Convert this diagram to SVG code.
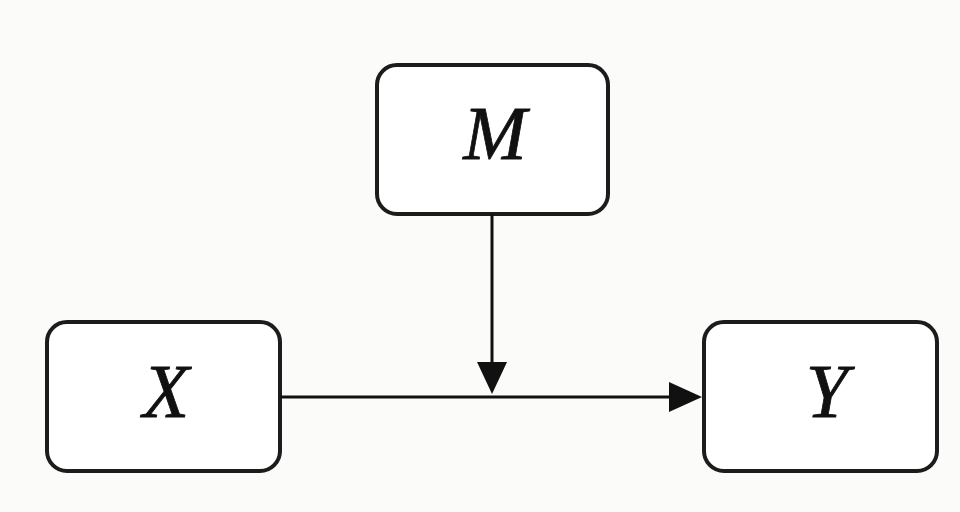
<svg xmlns="http://www.w3.org/2000/svg" width="960" height="512" viewBox="0 0 960 512">
  <defs>
    <style>
      .box { fill: #ffffff; stroke: #1c1c1c; stroke-width: 4; }
      .lbl { font-family: "Liberation Serif", "Times New Roman", serif; font-style: italic; font-size: 76px; fill: #111111; stroke: #111111; stroke-width: 0.8; text-anchor: middle; }
      .edge { stroke: #111111; stroke-width: 3; fill: none; }
      .head { fill: #111111; }
    </style>
  </defs>
  <rect width="960" height="512" fill="#fbfbfa"/>
  <g id="node-M">
    <rect class="box" x="377" y="65" width="231" height="149" rx="20"/>
    <text class="lbl" x="495" y="159">M</text>
  </g>
  <g id="node-X">
    <rect class="box" x="47" y="322" width="233" height="149" rx="20"/>
    <text class="lbl" x="166" y="417">X</text>
  </g>
  <g id="node-Y">
    <rect class="box" x="704" y="322" width="233" height="149" rx="20"/>
    <text class="lbl" x="827" y="417">Y</text>
  </g>
  <g id="connectors">
    <line class="edge" x1="280" y1="397" x2="672" y2="397"/>
    <polygon class="head" points="669,382 702,397 669,412"/>
    <line class="edge" x1="492" y1="214" x2="492" y2="364"/>
    <polygon class="head" points="477,362 507,362 492,394"/>
  </g>
</svg>
